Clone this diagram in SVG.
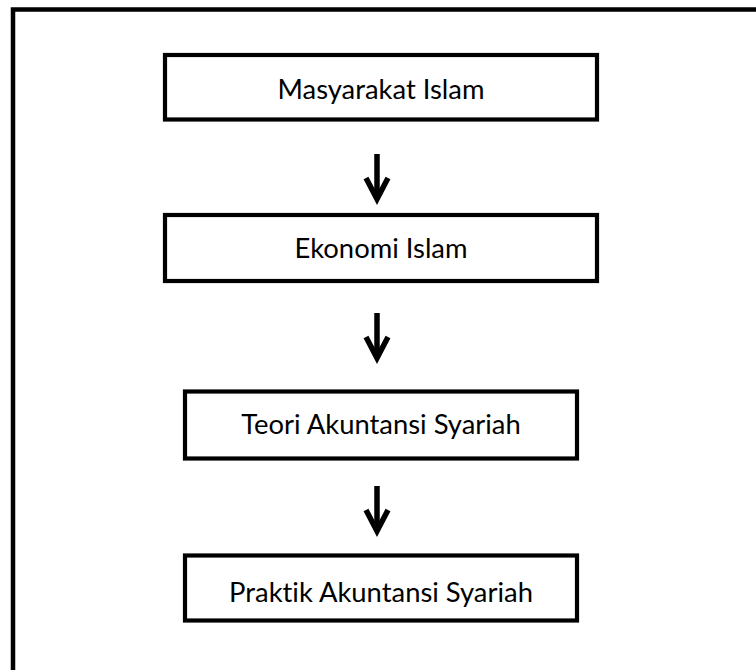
<svg xmlns="http://www.w3.org/2000/svg" width="756" height="670" viewBox="0 0 756 670">
<defs>
<style>
.box{fill:#fff;stroke:#000;stroke-width:4.2}
.lbl{font-family:Lato,"Open Sans","Liberation Sans",sans-serif;font-size:27.4px;font-variant-ligatures:none;fill:#000;text-anchor:middle;dominant-baseline:central}
.arr{stroke:#000;stroke-width:5.5;fill:none;stroke-linejoin:miter}
</style>
</defs>
<rect width="756" height="670" fill="#fff"/>
<path d="M13,680 V9.5 H770" fill="none" stroke="#000" stroke-width="4.5"/>
<g id="n1"><rect class="box" x="165" y="55" width="432" height="64.5"/><text class="lbl" x="381" y="88">Masyarakat Islam</text></g>
<g id="n2"><rect class="box" x="165" y="215" width="432" height="66"/><text class="lbl" x="381" y="247">Ekonomi Islam</text></g>
<g id="n3"><rect class="box" x="185" y="391.5" width="392" height="67"/><text class="lbl" x="381" y="423">Teori Akuntansi Syariah</text></g>
<g id="n4"><rect class="box" x="185" y="555.5" width="392" height="65"/><text class="lbl" x="381" y="591">Praktik Akuntansi Syariah</text></g>
<g id="connectors">
<g class="arr"><path d="M377,154 V198"/><path d="M366,178 L377,199 L388,178"/></g>
<g class="arr"><path d="M377,313 V357"/><path d="M366,337 L377,358 L388,337"/></g>
<g class="arr"><path d="M377,486 V530"/><path d="M366,510 L377,531 L388,510"/></g>
</g>
</svg>
